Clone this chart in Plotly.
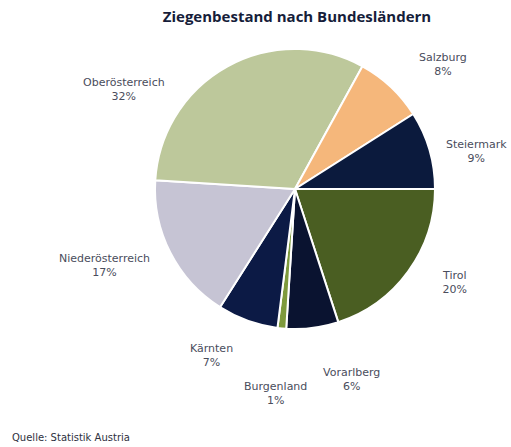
import math
import plotly.graph_objects as go

labels = ["Tirol", "Vorarlberg", "Burgenland", "Kärnten", "Niederösterreich",
          "Oberösterreich", "Salzburg", "Steiermark"]
values = [20, 6, 1, 7, 17, 32, 8, 9]
colors = ["#4a5e22", "#0a1330", "#7e9a3c", "#0c1a45", "#c6c4d4",
          "#bdc89b", "#f5b77b", "#0b1a3d"]

# label placement style (angle shift in degrees, radius in px) per slice
label_shift = [-5.8, -9.4, 0.0, 7.0, 5.0, -31.0, 6.8, 4.6]
label_rad = [185, 199, 205, 186, 205, 198, 193, 185]

W, H = 511, 447
CX, CY, R = 295, 189, 140
START = 90  # degrees clockwise from 12 o'clock


def px2x(px):
    return px / W


def py2y(py):
    return 1 - py / H


fig = go.Figure(go.Pie(
    labels=labels, values=values, sort=False, direction="clockwise",
    rotation=START, textinfo="none", hoverinfo="label+percent",
    marker=dict(colors=colors, line=dict(color="white", width=2)),
    domain=dict(x=[px2x(CX - R), px2x(CX + R)],
                y=[py2y(CY + R), py2y(CY - R)]),
    showlegend=False,
))

total = sum(values)
cum = 0
annotations = []
for lab, v, sh, lr in zip(labels, values, label_shift, label_rad):
    mid = START + (cum + v / 2) / total * 360 + sh
    cum += v
    a = math.radians(mid)
    px = CX + lr * math.sin(a)
    py = CY - lr * math.cos(a)
    annotations.append(dict(
        x=px2x(px), y=py2y(py), xref="paper", yref="paper",
        text=f"{lab}<br>{round(v / total * 100)}%", showarrow=False,
        font=dict(family="DejaVu Sans", size=11, color="#4a4d5c"),
        align="center", xanchor="center", yanchor="middle"))

annotations.append(dict(
    x=px2x(10), y=py2y(437), xref="paper", yref="paper",
    text="Quelle: Statistik Austria", showarrow=False,
    font=dict(family="DejaVu Sans", size=10, color="#2e3140"),
    xanchor="left", yanchor="middle"))

fig.update_layout(
    width=W, height=H, margin=dict(l=0, r=0, t=0, b=0),
    paper_bgcolor="white", plot_bgcolor="white",
    title=dict(text="<b>Ziegenbestand nach Bundesländern</b>",
               x=px2x(297), xanchor="center", y=py2y(17), yanchor="middle",
               font=dict(family="Open Sans", size=15, color="#161d3a")),
    annotations=annotations,
)

fig.write_html(
    "out.html",
    config={"displayModeBar": False},
    post_script="document.body.style.margin='0';document.body.style.overflow='hidden';",
)
